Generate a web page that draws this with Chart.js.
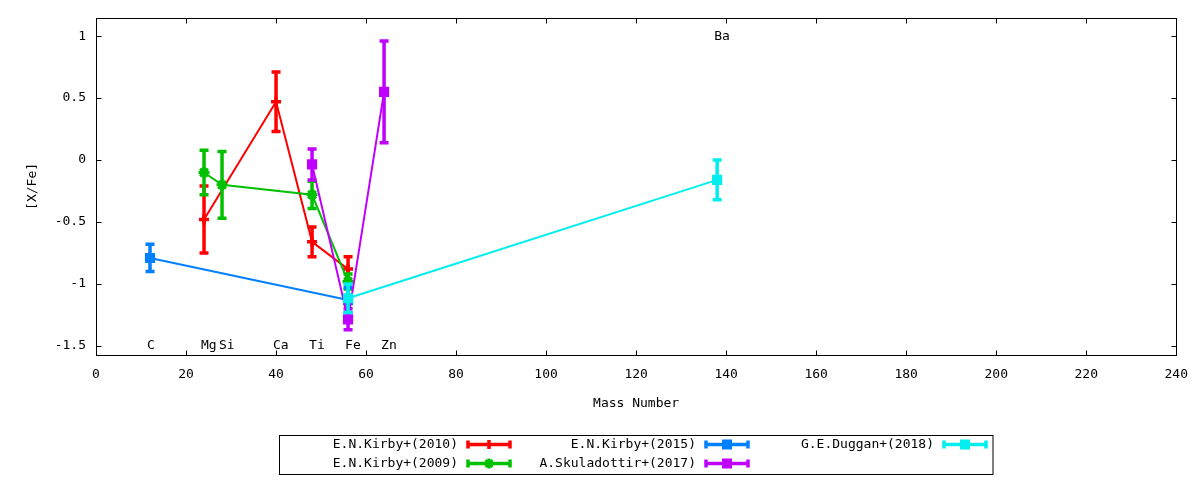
<!DOCTYPE html>
<html>
<head>
<meta charset="utf-8">
<script src="https://cdn.jsdelivr.net/npm/chart.js@4.4.0/dist/chart.umd.min.js"></script>
<style>
html,body{margin:0;padding:0;background:#ffffff;}
#wrap{width:1200px;height:480px;}
</style>
</head>
<body>
<div id="wrap"><canvas id="c" width="1200" height="480"></canvas></div>
<script>
// ---- data ----
const kirby2010Mass = [24, 40, 48, 56];
const kirby2010Val  = [-0.48, 0.47, -0.66, -0.88];
const kirby2010Err  = [0.27, 0.24, 0.12, 0.10];

const kirby2009Mass = [24, 28, 48, 56];
const kirby2009Val  = [-0.10, -0.20, -0.28, -0.98];
const kirby2009Err  = [0.18, 0.27, 0.11, 0.06];

const kirby2015Mass = [12, 56];
const kirby2015Val  = [-0.79, -1.13];
const kirby2015Err  = [0.11, 0.10];

const skula2017Mass = [48, 56, 64];
const skula2017Val  = [-0.035, -1.285, 0.55];
const skula2017Err  = [0.125, 0.085, 0.41];

const duggan2018Mass = [56, 138];
const duggan2018Val  = [-1.115, -0.16];
const duggan2018Err  = [0.115, 0.16];

const seriesLabels = ['E.N.Kirby+(2010)', 'E.N.Kirby+(2009)', 'E.N.Kirby+(2015)', 'A.Skuladottir+(2017)', 'G.E.Duggan+(2018)'];

const elementNames = ['C', 'Mg', 'Si', 'Ca', 'Ti', 'Fe', 'Zn', 'Ba'];
const elementMass  = [12, 24, 28, 40, 48, 56, 64, 138];
const elementLabelVal = [-1.5, -1.5, -1.5, -1.5, -1.5, -1.5, -1.5, 1];

const xTickValues = [0, 20, 40, 60, 80, 100, 120, 140, 160, 180, 200, 220, 240];
const yTickValues = [-1.5, -1, -0.5, 0, 0.5, 1];

// ---- styles ----
const FONT = "'DejaVu Sans Mono', monospace";
Chart.defaults.font.family = FONT;
Chart.defaults.font.size = 13;
Chart.defaults.color = '#000';

const colors = ['#ff0000', '#00c000', '#0080ff', '#c000ff', '#00eeee'];
const markers = ['cross', 'star', 'rect', 'rect', 'rect'];

function pts(xs, ys) { return xs.map((x, i) => ({x: x, y: ys[i]})); }
const seriesData = [
  pts(kirby2010Mass, kirby2010Val),
  pts(kirby2009Mass, kirby2009Val),
  pts(kirby2015Mass, kirby2015Val),
  pts(skula2017Mass, skula2017Val),
  pts(duggan2018Mass, duggan2018Val)
];
const seriesErr = [kirby2010Err, kirby2009Err, kirby2015Err, skula2017Err, duggan2018Err];

function markerRadius(m) { return m === 'cross' ? 5 : (m === 'star' ? 5.5 : 7.2); }
function markerBorder(m) { return m === 'cross' ? 3.5 : (m === 'star' ? 3 : 0); }

const datasets = seriesData.map((d, i) => ({
  label: seriesLabels[i],
  data: d,
  showLine: true,
  borderColor: colors[i],
  backgroundColor: colors[i],
  borderWidth: 2,
  tension: 0,
  fill: false,
  pointStyle: markers[i],
  pointRadius: markerRadius(markers[i]),
  pointHoverRadius: markerRadius(markers[i]),
  pointBorderWidth: markerBorder(markers[i]),
  pointBackgroundColor: colors[i],
  pointBorderColor: colors[i],
  order: seriesData.length - 1 - i,
  errors: seriesErr[i]
}));

function drawMarker(ctx, style, x, y, color) {
  ctx.save();
  ctx.strokeStyle = color; ctx.fillStyle = color;
  if (style === 'rect') {
    ctx.fillRect(x - 5, y - 5, 10, 10);
  } else if (style === 'cross') {
    ctx.lineWidth = 3.5;
    ctx.beginPath(); ctx.moveTo(x, y - 4.5); ctx.lineTo(x, y + 4.5); ctx.stroke();
  } else {
    ctx.lineWidth = 3;
    ctx.beginPath();
    ctx.moveTo(x, y - 5); ctx.lineTo(x, y + 5);
    ctx.moveTo(x - 3.5, y - 3.5); ctx.lineTo(x + 3.5, y + 3.5);
    ctx.moveTo(x + 3.5, y - 3.5); ctx.lineTo(x - 3.5, y + 3.5);
    ctx.stroke();
  }
  ctx.restore();
}

const decor = {
  id: 'decor',
  beforeDatasetsDraw(chart) {
    const {ctx, chartArea: a, scales: {x, y}} = chart;
    ctx.save();
    ctx.strokeStyle = '#000';
    ctx.lineWidth = 1;
    const L = Math.round(a.left) + 0.5, R = Math.round(a.right) + 0.5;
    const T = Math.round(a.top) + 0.5, B = Math.round(a.bottom) + 0.5;
    ctx.strokeRect(L, T, R - L, B - T);
    const tl = 5;
    ctx.beginPath();
    x.ticks.forEach(t => {
      const px = Math.round(x.getPixelForValue(t.value)) + 0.5;
      ctx.moveTo(px, B); ctx.lineTo(px, B - tl);
      ctx.moveTo(px, T); ctx.lineTo(px, T + tl);
    });
    y.ticks.forEach(t => {
      const py = Math.round(y.getPixelForValue(t.value)) + 0.5;
      ctx.moveTo(L, py); ctx.lineTo(L + tl, py);
      ctx.moveTo(R, py); ctx.lineTo(R - tl, py);
    });
    ctx.stroke();
    ctx.restore();
  },
  afterDatasetDraw(chart, args) {
    const {ctx, scales: {x, y}} = chart;
    const ds = chart.data.datasets[args.index];
    ctx.save();
    ctx.strokeStyle = ds.borderColor;
    ctx.lineWidth = 3.5;
    ctx.lineCap = 'butt';
    ds.data.forEach((p, i) => {
      const e = ds.errors[i];
      const px = x.getPixelForValue(p.x);
      const y1 = y.getPixelForValue(p.y + e);
      const y2 = y.getPixelForValue(p.y - e);
      ctx.beginPath();
      ctx.moveTo(px, y1 - 1.75); ctx.lineTo(px, y2 + 1.75);
      ctx.moveTo(px - 4.5, y1); ctx.lineTo(px + 4.5, y1);
      ctx.moveTo(px - 4.5, y2); ctx.lineTo(px + 4.5, y2);
      ctx.stroke();
    });
    ctx.restore();
  },
  afterDraw(chart) {
    const {ctx, scales: {x, y}} = chart;
    ctx.save();
    ctx.font = '13px ' + FONT;
    ctx.fillStyle = '#000';
    ctx.textBaseline = 'middle';
    ctx.textAlign = 'left';
    elementNames.forEach((n, i) => {
      ctx.fillText(n, x.getPixelForValue(elementMass[i]) - 3, y.getPixelForValue(elementLabelVal[i]));
    });
    // legend
    ctx.strokeStyle = '#000';
    ctx.lineWidth = 1;
    ctx.strokeRect(279.5, 435.5, 713.5, 39);
    const slots = [[0, 0], [0, 1], [1, 0], [1, 1], [2, 0]];
    chart.data.datasets.forEach((ds, i) => {
      const col = slots[i][0], row = slots[i][1];
      const tr = 458 + col * 238;
      const ty = 444.5 + row * 19;
      ctx.fillStyle = '#000';
      ctx.textAlign = 'right';
      ctx.fillText(ds.label, tr, ty);
      const x0 = tr + 10, x1 = tr + 52, cx = (x0 + x1) / 2;
      ctx.strokeStyle = ds.borderColor;
      ctx.lineWidth = 3.5;
      ctx.beginPath();
      ctx.moveTo(x0, ty); ctx.lineTo(x1, ty);
      ctx.moveTo(x0, ty - 4); ctx.lineTo(x0, ty + 4);
      ctx.moveTo(x1, ty - 4); ctx.lineTo(x1, ty + 4);
      ctx.stroke();
      drawMarker(ctx, ds.pointStyle, cx, ty, ds.borderColor);
    });
    ctx.restore();
  }
};

new Chart(document.getElementById('c'), {
  type: 'scatter',
  data: { datasets: datasets },
  options: {
    responsive: false,
    animation: false,
    devicePixelRatio: 1,
    layout: { padding: { left: 0, right: 23, top: 17, bottom: 55 } },
    plugins: { legend: { display: false }, tooltip: { enabled: false } },
    scales: {
      x: {
        type: 'linear',
        min: 0, max: 240,
        afterBuildTicks: s => { s.ticks = xTickValues.map(v => ({ value: v })); },
        afterFit: s => { s.height = 70; },
        ticks: { padding: 12, maxRotation: 0, autoSkip: false, color: '#000', font: { size: 13 }, callback: v => String(v) },
        grid: { display: false, drawTicks: false },
        border: { display: false },
        title: { display: true, text: 'Mass Number', color: '#000', font: { size: 13 }, padding: { top: 0, bottom: 14 } }
      },
      y: {
        type: 'linear',
        min: -1.573, max: 1.148,
        afterBuildTicks: s => { s.ticks = yTickValues.map(v => ({ value: v })); },
        afterFit: s => { s.width = 96; },
        ticks: { padding: 10, autoSkip: false, color: '#000', font: { size: 13 }, callback: v => String(v) },
        grid: { display: false, drawTicks: false },
        border: { display: false },
        title: { display: true, text: '[X/Fe]', color: '#000', font: { size: 13 }, padding: { top: 25, bottom: 0 } }
      }
    }
  },
  plugins: [decor]
});
</script>
</body>
</html>
